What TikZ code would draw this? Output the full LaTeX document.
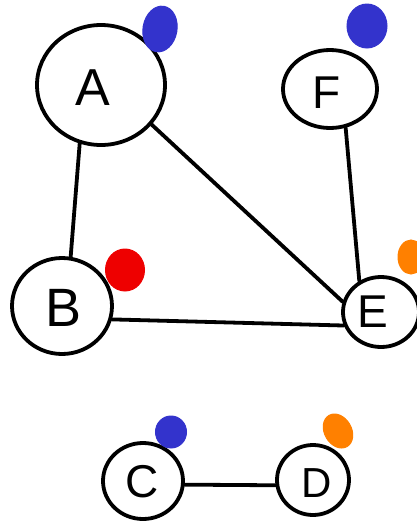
\documentclass[tikz,border=0pt]{standalone}
\usepackage{fontspec}
\setmainfont{Liberation Sans}
\usetikzlibrary{shapes.geometric}

\definecolor{markblue}{HTML}{3333CC}
\definecolor{markred}{HTML}{EE0000}
\definecolor{markorange}{HTML}{FF8000}

\tikzset{
  vertex/.style={draw=black, line width=3.8pt, ellipse, inner sep=0pt},
  link/.style={draw=black, line width=3.8pt, line cap=round},
  blob/.style={ellipse, inner sep=0pt, draw, line width=1pt}
}

\begin{document}
\begin{tikzpicture}[x=1pt, y=-1pt]
  \useasboundingbox (0,0) rectangle (417,523);

  % graph vertices and their letters
  \node[vertex, minimum width=128pt, minimum height=120pt] (a) at (101,85) {};
  \node (la) at (93,88) {\fontsize{52}{52}\selectfont A};
  \node[vertex, minimum width=94pt, minimum height=78pt] (f) at (330,89) {};
  \node (lf) at (327,93) {\fontsize{46}{46}\selectfont F};
  \node[vertex, minimum width=100pt, minimum height=96pt] (b) at (62,306) {};
  \node (lb) at (64,308) {\fontsize{54}{54}\selectfont B};
  \node[vertex, minimum width=76pt, minimum height=70pt] (e) at (381,312) {};
  \node (le) at (373,312) {\fontsize{46}{46}\selectfont E};
  \node[vertex, minimum width=80pt, minimum height=76pt] (c) at (143,481) {};
  \node (lc) at (142,482) {\fontsize{46}{46}\selectfont C};
  \node[vertex, minimum width=72pt, minimum height=70pt] (d) at (313,480) {};
  \node (ld) at (317,483) {\fontsize{42}{42}\selectfont D};

  % edges
  \draw[link] (a.250) -- (b.80);
  \draw[link] (a.-38) -- (e.165);
  \draw[link] (f.-68) -- (e.125);
  \draw[link] (b.-15) -- (e.200);
  \draw[link] (c.-5) -- (d.188);

  % colour markers
  \node[blob, fill=markblue, draw=markblue, rotate=-10, minimum width=34pt, minimum height=46pt] (ma) at (160,29) {};
  \node[blob, fill=markblue, draw=markblue, minimum width=40pt, minimum height=44pt] (mf) at (367,26) {};
  \node[blob, fill=markred, draw=markred, minimum width=39pt, minimum height=42pt] (mb) at (125,270) {};
  \node[blob, fill=markorange, draw=markorange, minimum width=26pt, minimum height=34pt] (me) at (411,257) {};
  \node[blob, fill=markblue, draw=markblue, minimum width=31pt, minimum height=32pt] (mc) at (171,432) {};
  \node[blob, fill=markorange, draw=markorange, rotate=30, minimum width=27pt, minimum height=36pt] (md) at (338,431) {};
\end{tikzpicture}
\end{document}
